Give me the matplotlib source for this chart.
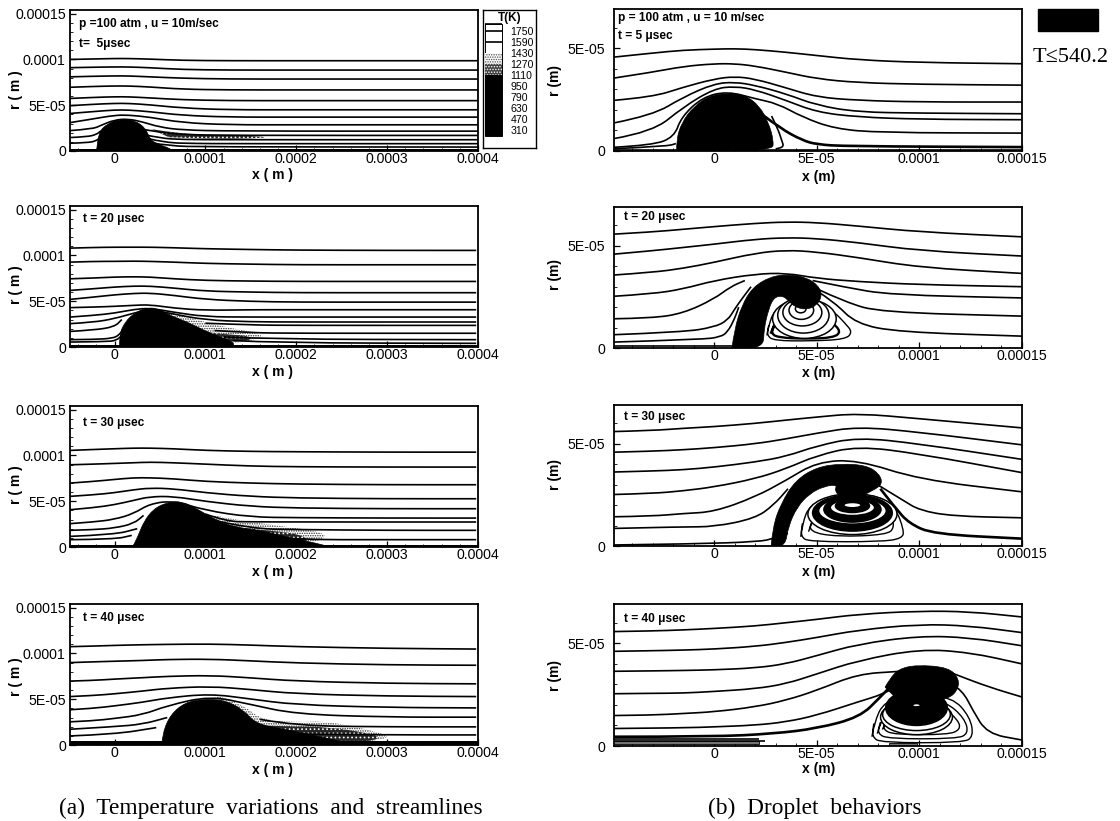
import numpy as np
import matplotlib
matplotlib.use("Agg")
import matplotlib.pyplot as plt
from matplotlib.path import Path
from matplotlib.patches import PathPatch, Ellipse, Rectangle

# all lengths below are in micrometres
UM = 1e-6
W, H = 1120, 821
plt.rcParams["font.family"] = ["Liberation Sans", "DejaVu Sans"]
plt.rcParams["hatch.linewidth"] = 0.7

# --- left column, temperature + streamlines ---
a1_x = [-49, -24, 0, 15, 38.5, 74, 125, 200, 301, 400]
a1_lines = [
    [100, 100.5, 101, 101, 100.4, 99, 98.6, 98.6, 98.6, 98.6],
    [91, 91.5, 91.8, 91.8, 91, 89, 88.4, 88.4, 88.4, 88.4],
    [81, 81.6, 82, 82, 81, 79.5, 78.6, 78.6, 78.6, 78.6],
    [69.6, 70.5, 71, 71, 70, 67.5, 66.7, 66.7, 66.7, 66.7],
    [57.4, 58.5, 59.2, 59.2, 58, 56, 55, 55, 55, 55],
    [49.5, 51, 52, 52, 50.5, 47, 45, 45, 45, 45],
    [41, 43, 44.8, 44.8, 43, 39, 37, 37, 37, 37],
    [31, 35, 39, 39.3, 37, 31, 28.6, 28.6, 28.6, 28.6],
]
a1_extra = [
    ([-49, -24, -15, 0, 15, 30, 50, 74, 125, 400], [22.3, 24, 28, 34, 35, 32, 26, 23, 21.7, 21.7]),
    ([-49, -30, -20, -15], [14.7, 15.5, 18, 22]),
    ([30, 45, 74, 125, 400], [24, 21, 18, 17, 17]),
    ([-49, -30, -20, -16], [8.5, 9, 11, 15]),
    ([32, 50, 74, 125, 400], [18, 14, 12.5, 12.3, 12.3]),
    ([35, 55, 90, 125, 400], [14, 9, 8.2, 8, 8]),
    ([40, 60, 100, 400], [9, 5.5, 4.5, 4.3]),
]
a1_drop_x = [-19.6, -18.5, -8.6, 7, 22.8, 34.6, 38.5, 46, 62, 62, -19.6]
a1_drop_r = [0, 18.8, 29.7, 35, 33.3, 24.3, 13.4, 8, 2.5, 0, 0]
a1_stip_x = []
a1_stip_r = []
a1_dark_x = [40, 70, 110, 165, 165, 110, 60]
a1_dark_r = [24, 19, 17.5, 16, 14, 13, 15]
a1_band = 2.5

a_x = [-49, -23, 0, 21, 39, 65, 100, 149, 200, 300, 398]
a2_lines = [
    [108, 108.7, 109, 109, 109, 108.4, 107.3, 106.5, 105.8, 105.5, 105.5],
    [92.7, 93.5, 93.5, 93.8, 93.5, 92.7, 91.3, 90.5, 89.8, 89.8, 89.8],
    [74.5, 75.3, 76.4, 76.7, 76.4, 74.5, 72.7, 72, 71.6, 71.6, 71.6],
    [61.8, 63.6, 65.5, 66.5, 66.5, 64.4, 61, 60, 59.3, 59.3, 59.3],
    [52, 54.5, 57, 58.5, 58.9, 56.4, 52, 49.8, 49, 49, 49],
    [43, 43.6, 44.4, 45.5, 46.2, 42.5, 40, 40.7, 40.7, 40.7, 40.7],
    [32.7, 34.5, 37, 41, 42.5, 38, 33, 32.7, 32.7, 32.7, 32.7],
    [25.5, 27, 31, 37, 41, 36, 29.5, 27.5, 27.3, 27.3, 27.3],
]
a2_extra = [
    ([-49, -23, 0, 8], [17, 18.5, 22, 30]),
    ([100, 149, 200, 398], [26, 24, 23.6, 23.6]),
    ([-49, -23, -2, 5, 9], [8, 8.2, 9.5, 13, 19]),
    ([110, 149, 200, 398], [18, 15.5, 15, 15]),
    ([-49, -10, 2, 8], [5.4, 5.8, 7, 12.7]),
    ([120, 170, 398], [11, 8.5, 8]),
    ([130, 180, 398], [7, 4.5, 4]),
]
a2_drop_x = [5.5, 5.5, 11.7, 21, 33.8, 46.5, 61, 80, 98.4, 116, 131, 131, 5.5]
a2_drop_r = [0, 14.5, 27.3, 36.4, 42.5, 42.5, 34.5, 27.3, 18.2, 10.9, 5.5, 0, 0]
a2_stip_x = [60, 90, 120, 150, 165, 150, 120, 100, 60]
a2_stip_r = [38, 30, 22, 17, 12, 6, 4, 10, 30]
a2_dark_x = [85, 120, 150, 150, 120, 95]
a2_dark_r = [18, 14, 12, 7, 5, 12]
a2_band = 2

a3_lines = [
    [105.5, 106.5, 107.3, 108, 108, 107.3, 105.5, 104.4, 104, 103.6, 103.6],
    [89.8, 90.5, 91.3, 92, 92.7, 92, 90.5, 88.4, 87.6, 87.3, 87.3],
    [69.8, 71.6, 73.8, 75.6, 75.6, 74.5, 71.6, 69.8, 68.7, 68, 68],
    [55.3, 57, 59.3, 62.5, 64.4, 63.6, 59.3, 55.3, 53.5, 52.7, 52.7],
    [40.7, 42.9, 46.2, 50.9, 55, 55.3, 49.8, 44.4, 42.5, 41.8, 41.8],
    [25.5, 27.3, 30.2, 36.4, 47.3, 50.5, 40, 32.7, 32, 31.6, 31.6],
]
a3_extra = [
    ([-49, -23, 0, 21, 32], [18.2, 18.9, 20.7, 25.5, 34.5]),
    ([100, 123, 149, 398], [36, 28, 27.3, 27.3]),
    ([-49, 0, 25], [11.6, 13.5, 20]),
    ([110, 150, 200, 300, 398], [29, 20, 19, 18.2, 18.2]),
    ([-49, 0, 19], [8, 8.4, 12.7]),
    ([130, 200, 300, 398], [12, 8, 8, 8]),
]
a3_drop_x = [20, 26.4, 32, 43, 59, 74, 90.5, 109, 131, 160, 189, 233, 233, 20]
a3_drop_r = [0, 12.7, 27.3, 41.8, 49, 49.8, 41.8, 30.9, 21.8, 18.2, 10.9, 1.8, 0, 0]
a3_stip_x = [109, 138, 178, 230, 232, 205, 131, 109]
a3_stip_r = [34.5, 29, 23.6, 16.4, 9, 2, 5.5, 34.5]
a3_dark_x = [130, 170, 205, 215, 190, 140]
a3_dark_r = [22, 18, 14, 5, 1, 5]
a3_band = 2.5

a4_x = [-49, -24, 0, 31, 58, 105, 148, 199, 301, 398]
a4_lines = [
    [107.4, 108, 108.8, 109.5, 109.9, 110.3, 109.2, 107.4, 105.5, 104.8],
    [90, 90.8, 91.5, 92.3, 93.4, 93.8, 92, 89.6, 87.5, 87.1],
    [69.8, 70.5, 72, 73.5, 75, 76, 73.5, 69.8, 67.3, 66.8],
    [52.9, 54, 55.9, 58.9, 62, 64, 60.8, 55.9, 53.4, 52.9],
    [38.5, 40, 42.7, 46.7, 51.5, 55.9, 50.5, 43.9, 41, 40.5],
    [25.3, 26.4, 29, 33, 43, 53.5, 44.7, 33.7, 30.4, 30.4],
]
a4_extra = [
    ([-49, 0, 31, 58], [17.2, 20, 22.7, 30]),
    ([160, 199, 301, 398], [28, 21, 19.8, 19.8]),
    ([-49, 0, 46], [9.9, 11.7, 19]),
    ([200, 301, 398], [12, 11, 11]),
]
a4_drop_x = [52, 53, 62, 78, 97, 121, 141, 156, 188, 247, 266, 266, 52]
a4_drop_r = [0, 13.6, 33.7, 46.5, 50.2, 49, 39, 22.7, 17.2, 4.4, 0, 0, 0]
a4_stip_x = [109, 141, 160, 199, 235, 301, 299, 247, 148, 109]
a4_stip_r = [55, 45, 28, 24.5, 26.4, 11.7, 6.2, 0.7, 8, 55]
a4_dark_x = [150, 190, 235, 290, 290, 240, 160]
a4_dark_r = [22, 20, 20, 11, 5, 1, 5]
a4_band = 4.5

# --- right column, droplet + streamlines ---
b1_x = [-49, -30, -15, 0, 10, 20, 35, 50, 70, 100, 150]
b1_lines = [
    [45.6, 47.6, 49, 49.5, 49.7, 49.3, 48, 46.4, 44.3, 43, 42.4],
    [35.4, 38.3, 41.1, 42.4, 42.4, 41.3, 38.3, 35.1, 33.2, 32.4, 32],
    [24.6, 26.2, 31, 35, 36.2, 35, 30.7, 26.2, 24.6, 23.8, 23.8],
    [13.6, 17.3, 26.2, 32.7, 33.5, 31.9, 27.8, 22.2, 18.9, 18.4, 18.1],
    [6, 9.2, 21.4, 30.3, 31.4, 29.8, 24.6, 18.9, 16.5, 15.4, 15.2],
]
b1_extra = [
    ([-49, -30, -19.4, -16, -5.6, 6.6, 20, 31, 43, 58.7, 81, 150],
     [1.8, 2.8, 6.8, 16.5, 26.2, 29, 25.4, 23, 16.5, 10.8, 8.9, 8.7]),
    ([-49, -23, -18.6], [1.1, 2.3, 3.6]),
    ([28, 31, 33, 34, 30], [17, 11, 5, 2, 1]),
    ([-49, 150], [0.4, 0.4]),
]
b1_thick = [([24, 32.6, 43, 50, 64, 150], [17.3, 10.8, 5.2, 3.2, 2.3, 1.9])]
b1_drop_x = [-18.2, -18.4, -15.8, -10, -2, 6.6, 15.3, 22, 26.5, 29, 28.4, -18.2]
b1_drop_r = [0, 5.2, 13.8, 21.5, 27, 28, 27, 22, 13.8, 5.2, 0, 0]
b1_loops = []
b1_rings = []
b1_bands = []

b_x = [-49, -30, -15, 0, 20, 35, 50, 70, 100, 150]
b2_lines = [
    [55.7, 56.8, 58.1, 59.4, 61, 61.7, 61.4, 59.7, 56.8, 54.4],
    [45.9, 47.6, 49.2, 50.8, 53.2, 54, 53.6, 51.6, 47.6, 45],
    [35.7, 37, 39, 41.9, 46.4, 47.9, 47, 44.3, 39.4, 36.5],
    [25.3, 26.5, 28.9, 33, 36.2, 36.7, 34.1, 32.5, 31, 30],
]
b2_extra = [
    ([-49, -30, -15, 0, 8, 15], [14.3, 14.6, 17, 24, 30, 33]),
    ([48, 64, 85.6, 150], [33, 29.7, 26, 24.5]),
    ([-49, -15, 0, 6.6, 10, 13.5, 18], [6.5, 7.8, 10.2, 13.5, 19, 24, 30]),
    ([50, 64, 81, 150], [29, 22.4, 17.5, 15.6]),
    ([-49, -5.6, 3, 6.6, 10, 12], [2.9, 4.2, 5.4, 7.8, 14.3, 20]),
    ([50, 58.7, 69, 90, 150], [28, 22.4, 11.9, 7.8, 5.8]),
    ([-49, 9], [1, 1]),
]
b2_thick = []
b2_drop_x = [8.7, 10, 13.5, 18.8, 27.4, 36.1, 44.8, 50.9, 52.6, 50, 44.8, 39.6, 36.1, 33.5, 29.2, 26.6, 24.3, 24, 8.7]
b2_drop_r = [0, 9.4, 20.8, 29.7, 34.9, 36, 34.6, 30.5, 25.6, 20.8, 18.7, 20, 23.2, 25.6, 24.8, 19.2, 9.4, 0, 0]
b2_loops = [
    ([25.7, 26.6, 29.2, 36.1, 50, 58.7, 64, 67.4, 64, 46.5, 29.2, 25.7, 26.6],
     [6.2, 11, 18.3, 22.4, 23.2, 17.5, 11.9, 7.8, 4.2, 3.4, 3.6, 6.2, 11], 1.0),
    ([27.5, 30, 38, 50, 57, 62, 58, 45, 32, 27.5, 30],
     [7, 13, 20, 19, 13, 8, 5, 4.5, 5, 7, 13], 1.7),
]
# x centre, r centre, half width, half height, face
b2_rings = [
    (44, 14.3, 15.5, 9.6, "white"),
    (43.5, 16, 12.5, 8.7, "white"),
    (43, 17.4, 9.5, 6.6, "white"),
    (42.5, 18.5, 6, 4.5, "white"),
    (42.2, 19.2, 2.6, 2, "white"),
]
b2_bands = []

b3_lines = [
    [56, 56.5, 57.6, 58.4, 60, 61.6, 63.1, 64.9, 62.3, 57.8],
    [45.9, 46.4, 47.1, 48.1, 50, 52.4, 55.2, 58.4, 55.7, 49.5],
    [36.2, 36.7, 37.3, 38.6, 41.1, 43.8, 49, 53.2, 50, 42.4],
    [25.2, 25.7, 27, 28.9, 32.9, 37.8, 44.3, 48.9, 45.1, 35.9],
    [14.3, 14.6, 15.9, 16.7, 24, 32.1, 41.1, 42.2, 32.5, 26.5],
]
b3_extra = [
    ([-49, -15, 0, 20, 29, 36], [8.6, 9.4, 9.4, 13.5, 20, 28]),
    ([78, 92, 100, 116, 150], [31, 22.4, 17.5, 14.6, 13.8]),
    ([-49, -10, 22, 29, 36], [0.5, 1, 2.1, 3.7, 6.2]),
]
b3_thick = [([81, 88, 95, 107, 150], [28, 19, 11, 5.8, 3.6])]
b3_drop_x = [27.8, 28.6, 32.6, 39.6, 50, 62.2, 74.3, 80.4, 82.1, 77.8, 67.4, 61.3, 58.7, 60, 53.5, 46.5, 40.5, 36.1, 34.7, 27.8]
b3_drop_r = [0, 9.4, 20.8, 32.1, 38.6, 40.3, 39.4, 35.4, 30.5, 27.3, 22.4, 24, 27.3, 30, 29.2, 25.6, 19.2, 9.4, 0, 0]
b3_loops = [
    ([42.2, 43, 46.5, 56.9, 77.8, 88.2, 92.5, 91.7, 81.3, 46.5, 42.2, 43],
     [4.5, 11, 20, 24, 25.6, 19.2, 7.8, 3.7, 2.1, 2.1, 4.5, 11], 1.0),
    ([46, 48, 52, 60, 78, 86, 88, 84, 60, 46, 48],
     [7, 13, 19, 22.5, 22.5, 17, 9, 5.5, 4.5, 7, 13], 1.0),
]
b3_rings = [
    (67.4, 15.6, 21.7, 10, "white"),
    (67.4, 16.2, 19.4, 8.9, "black"),
    (67.4, 17.2, 16.5, 6.5, "white"),
    (67.4, 17.9, 13.9, 6.2, "black"),
    (67.4, 18.8, 10.8, 3.9, "white"),
    (67.4, 19.6, 8.3, 3.2, "black"),
    (67.4, 20, 4.3, 1.3, "white"),
]
b3_bands = []

b4_x = [-49, -30, -15, 0, 20, 35, 50, 70, 100, 124.6, 150]
b4_lines = [
    [55.6, 55.9, 56.4, 57.1, 58.3, 59.9, 61.5, 64, 65.6, 65.3, 62.7],
    [46, 46.3, 46.6, 47.1, 48.4, 50.3, 52.7, 56.3, 59.2, 58.4, 55.1],
    [36.3, 36.5, 36.7, 37, 37.9, 39.9, 43.9, 49.5, 53.5, 52.7, 48.7],
    [25.4, 25.6, 25.7, 26.5, 27.8, 30.2, 35, 41.5, 47.1, 45.5, 39.9],
]
b4_extra = [
    ([-49, -30, -15, 0, 20, 35, 50, 70, 90, 98], [14.8, 15, 15.8, 16.6, 19, 22.2, 27, 35, 36.2, 37]),
    ([112, 119, 134, 150], [37, 34.2, 28.6, 23.8]),
    ([-49, -15, 0, 20, 35, 50, 70, 83, 90], [8.5, 8.8, 9.3, 10.1, 11.7, 14.9, 21.4, 25.4, 30]),
    ([116, 121, 126, 133, 150], [30, 27, 17.4, 6, 2.9]),
    ([-49, 25], [2.6, 2.6]),
    ([-49, 22], [3.4, 3.4]),
]
b4_thick = [([-49, 0, 29, 50, 71, 81, 85], [4.5, 4.5, 6, 8.5, 14, 23.8, 28])]
b4_drop_x = [83.3, 85.6, 89.9, 98.6, 114.2, 119.4, 118.6, 114.2, 102.1, 89.9, 83.3]
b4_drop_r = [28.6, 32.6, 37.4, 39.4, 38.2, 32.6, 27, 23, 21, 22, 28.6]
b4_loops = [
    ([76.9, 77.8, 83, 98.6, 116, 124.7, 126.4, 121.2, 81.3, 76.9, 77.8],
     [4.5, 10.9, 22.2, 24.6, 23.8, 14.1, 4.5, 1.6, 1.6, 4.5, 10.9], 1.0),
    ([79.5, 81, 86, 99, 113, 122, 124, 118, 85, 79.5, 81],
     [6, 11.5, 20, 24, 21.5, 13.5, 6, 3.5, 3.5, 6, 11.5], 1.0),
    ([82, 84, 88, 99, 111, 119, 120, 114, 88, 82, 84],
     [8, 13, 19, 22, 19.5, 12.5, 8, 5.5, 5.5, 8, 13], 1.0),
]
b4_rings = [
    (98.6, 14, 17.5, 8.5, "white"),
    (98.6, 15.3, 16.5, 7.8, "white"),
    (98.6, 18.6, 15, 8.6, "black"),
    (98.6, 19.8, 2, 0.8, "white"),
]
# x start, x end, r low, r high
b4_bands = [(-49, 22, 1.0, 2.4), (85, 99, 0.4, 1.6)]

# legend of the temperature plots
t_levels = [1750, 1590, 1430, 1270, 1110, 950, 790, 630, 470, 310]
t_shades = ["white", "white", "dots", "darkdots", "black", "black", "black", "black", "black", "black"]

a_xticks = [0, 100, 200, 300, 400]
a_xlabels = ["0", "0.0001", "0.0002", "0.0003", "0.0004"]
a_rticks = [0, 50, 100, 150]
a_rlabels = ["0", "5E-05", "0.0001", "0.00015"]
b_xticks = [0, 50, 100, 150]
b_xlabels = ["0", "5E-05", "0.0001", "0.00015"]
b_rticks = [0, 50]
b_rlabels = ["0", "5E-05"]

fig = plt.figure(figsize=(W / 100, H / 100), dpi=100)


def fx(px):
    return px / W


def fy(py):
    return 1 - py / H


def ftext(px, py, s, **kw):
    kw.setdefault("ha", "center")
    kw.setdefault("va", "center")
    fig.text(fx(px), fy(py), s, **kw)


def smooth_path(x, r):
    pts = np.column_stack([x, r]) * UM
    verts = [pts[0]]
    codes = [Path.MOVETO]
    for i in range(1, len(pts) - 1):
        verts += [pts[i], (pts[i] + pts[i + 1]) / 2]
        codes += [Path.CURVE3, Path.CURVE3]
    verts.append(pts[-1])
    codes.append(Path.LINETO)
    return Path(np.array(verts), codes)


def stream(ax, x, r, lw=1.2, z=3):
    ax.add_patch(PathPatch(smooth_path(x, r), fc="none", ec="k", lw=lw, zorder=z, capstyle="butt"))


def make_axes(l, t, r, b, xlim, rlim, xt, xl, rt, rl, rpad):
    ax = fig.add_axes([fx(l), fy(b), fx(r - l), (b - t) / H])
    ax.set_xlim(xlim[0] * UM, xlim[1] * UM)
    ax.set_ylim(0, rlim * UM)
    ax.set_xticks([v * UM for v in xt])
    ax.set_xticklabels(xl, fontsize=10.2)
    ax.set_yticks([v * UM for v in rt])
    ax.set_yticklabels(rl, fontsize=10.2)
    ax.set_yticks(np.arange(0, rlim, 10) * UM, minor=True)
    ax.set_xticks(np.arange(-40, xlim[1], 10 if xlim[1] < 200 else 20) * UM, minor=True)
    ax.tick_params(which="major", direction="in", length=4, width=0.9)
    ax.tick_params(which="minor", direction="in", length=2, width=0.6)
    ax.tick_params(axis="x", which="major", pad=1)
    ax.tick_params(axis="y", which="major", pad=rpad)
    for s in ax.spines.values():
        s.set_linewidth(1.3)
    return ax


def temp_panel(box, x, lines, extra, drop_x, drop_r, stip_x, stip_r, dark_x, dark_r, band):
    ax = make_axes(*box, (-49, 400), 154, a_xticks, a_xlabels, a_rticks, a_rlabels, 3)
    if stip_x:
        ax.add_patch(PathPatch(smooth_path(stip_x, stip_r), fc="white", ec="0.2", lw=0, hatch=".......", zorder=2.4))
    ax.add_patch(PathPatch(smooth_path(dark_x, dark_r), fc="0.15", ec="white", lw=0, hatch="....", zorder=2.6))
    for r in lines:
        stream(ax, x, r)
    for ex, er in extra:
        stream(ax, ex, er)
    ax.add_patch(PathPatch(smooth_path(drop_x, drop_r), fc="k", ec="k", lw=0.5, zorder=4))
    ax.add_patch(Rectangle((-49 * UM, 0), 449 * UM, band * UM, fc="k", ec="none", zorder=4))
    return ax


def drop_panel(box, x, lines, extra, thick, drop_x, drop_r, loops, rings, bands):
    ax = make_axes(*box, (-49, 150), 69, b_xticks, b_xlabels, b_rticks, b_rlabels, 6)
    for x0, x1, r0, r1 in bands:
        ax.add_patch(Rectangle((x0 * UM, r0 * UM), (x1 - x0) * UM, (r1 - r0) * UM, fc="0.45", ec="k", lw=0.6, zorder=3))
    for r in lines:
        stream(ax, x, r)
    for ex, er in extra:
        stream(ax, ex, er)
    for ex, er in thick:
        stream(ax, ex, er, lw=1.9)
    for ex, er, lw in loops:
        stream(ax, ex, er, lw=lw)
    for cx, cr, hw, hh, face in rings:
        ax.add_patch(Ellipse((cx * UM, cr * UM), 2 * hw * UM, 2 * hh * UM, fc=face, ec="k", lw=1.1, zorder=3.5))
    ax.add_patch(PathPatch(smooth_path(drop_x, drop_r), fc="k", ec="k", lw=0.5, zorder=4))
    return ax


a1 = temp_panel((70, 10, 478, 151), a1_x, a1_lines, a1_extra, a1_drop_x, a1_drop_r, a1_stip_x, a1_stip_r, a1_dark_x, a1_dark_r, a1_band)
a2 = temp_panel((70, 206, 478, 347), a_x, a2_lines, a2_extra, a2_drop_x, a2_drop_r, a2_stip_x, a2_stip_r, a2_dark_x, a2_dark_r, a2_band)
a3 = temp_panel((70, 406, 478, 547), a_x, a3_lines, a3_extra, a3_drop_x, a3_drop_r, a3_stip_x, a3_stip_r, a3_dark_x, a3_dark_r, a3_band)
a4 = temp_panel((70, 604, 478, 745), a4_x, a4_lines, a4_extra, a4_drop_x, a4_drop_r, a4_stip_x, a4_stip_r, a4_dark_x, a4_dark_r, a4_band)

b1 = drop_panel((613.5, 9, 1022, 151), b1_x, b1_lines, b1_extra, b1_thick, b1_drop_x, b1_drop_r, b1_loops, b1_rings, b1_bands)
b2 = drop_panel((613.5, 207, 1022, 348), b_x, b2_lines, b2_extra, b2_thick, b2_drop_x, b2_drop_r, b2_loops, b2_rings, b2_bands)
b3 = drop_panel((613.5, 405, 1022, 546), b_x, b3_lines, b3_extra, b3_thick, b3_drop_x, b3_drop_r, b3_loops, b3_rings, b3_bands)
b4 = drop_panel((613.5, 604, 1022, 746), b4_x, b4_lines, b4_extra, b4_thick, b4_drop_x, b4_drop_r, b4_loops, b4_rings, b4_bands)

# axis titles
bold = dict(fontweight="bold", fontsize=10)
for y in [175, 372, 572, 770]:
    ftext(273, y, "x ( m )", **bold)
for y in [177, 373, 572, 769]:
    ftext(819, y, "x (m)", **bold)
for y in [90, 285, 485, 677]:
    ftext(16, y, "r ( m )", rotation=90, **bold)
for y in [80, 275, 474, 675]:
    ftext(555, y, "r (m)", rotation=90, **bold)

# panel notes
note = dict(fontweight="bold", fontsize=8.6, ha="left")
ftext(79, 24, "p =100 atm , u = 10m/sec", **note)
ftext(79, 44, "t=  5\u03bcsec", **note)
ftext(83, 219, "t = 20 \u03bcsec", **note)
ftext(83, 423, "t = 30 \u03bcsec", **note)
ftext(83, 618, "t = 40 \u03bcsec", **note)
ftext(618, 18, "p = 100 atm , u = 10 m/sec", **note)
ftext(618, 36, "t = 5 \u03bcsec", **note)
ftext(624, 217, "t = 20 \u03bcsec", **note)
ftext(624, 417, "t = 30 \u03bcsec", **note)
ftext(624, 619, "t = 40 \u03bcsec", **note)

# temperature legend, box 483-536 x 9-148 px
leg = fig.add_axes([fx(482.5), fy(148), fx(53.5), 138 / H])
leg.set_xlim(0, 53.5)
leg.set_ylim(138, 0)
leg.set_xticks([])
leg.set_yticks([])
for s in leg.spines.values():
    s.set_linewidth(1.0)
leg.text(27, 7.5, "T(K)", ha="center", va="center", fontsize=8.5, fontweight="bold")
step = 11.1
leg.add_patch(Rectangle((2.5, 14), 17, 112, fc="none", ec="k", lw=0.7))
leg.hlines(14, 2.5, 19.5, color="k", lw=1.2)
for i, (lev, shade) in enumerate(zip(t_levels, t_shades)):
    top = 20.8 + i * step
    tall = min(step, 126 - top)
    if shade == "black":
        leg.barh(top + tall / 2, 17, height=tall + 0.5, left=2.5, color="k", linewidth=0)
    elif shade == "white":
        leg.hlines(top, 2.5, 19.5, color="k", lw=1.2)
    elif shade == "dots":
        leg.barh(top + tall / 2, 17, height=tall, left=2.5, color="w", edgecolor="0.3", linewidth=0, hatch=".......")
    else:
        leg.barh(top + tall / 2, 17, height=tall, left=2.5, color="0.25", edgecolor="w", linewidth=0, hatch="......")
    leg.text(28, 21.5 + i * 11.1, str(lev), ha="left", va="center", fontsize=7.6)

# droplet key
fig.patches.append(Rectangle((fx(1037.5), fy(31)), fx(60), 22 / H, transform=fig.transFigure, fc="k", ec="k"))
serif = ["Liberation Serif", "DejaVu Serif"]
ftext(1070.5, 57, "T\u2264540.2", family=serif, fontsize=16)

# captions
ftext(270.5, 808, "(a)  Temperature  variations  and  streamlines", family=serif, fontsize=16.8)
ftext(815, 808, "(b)  Droplet  behaviors", family=serif, fontsize=16.8)

fig.savefig("out.png", dpi=100)
